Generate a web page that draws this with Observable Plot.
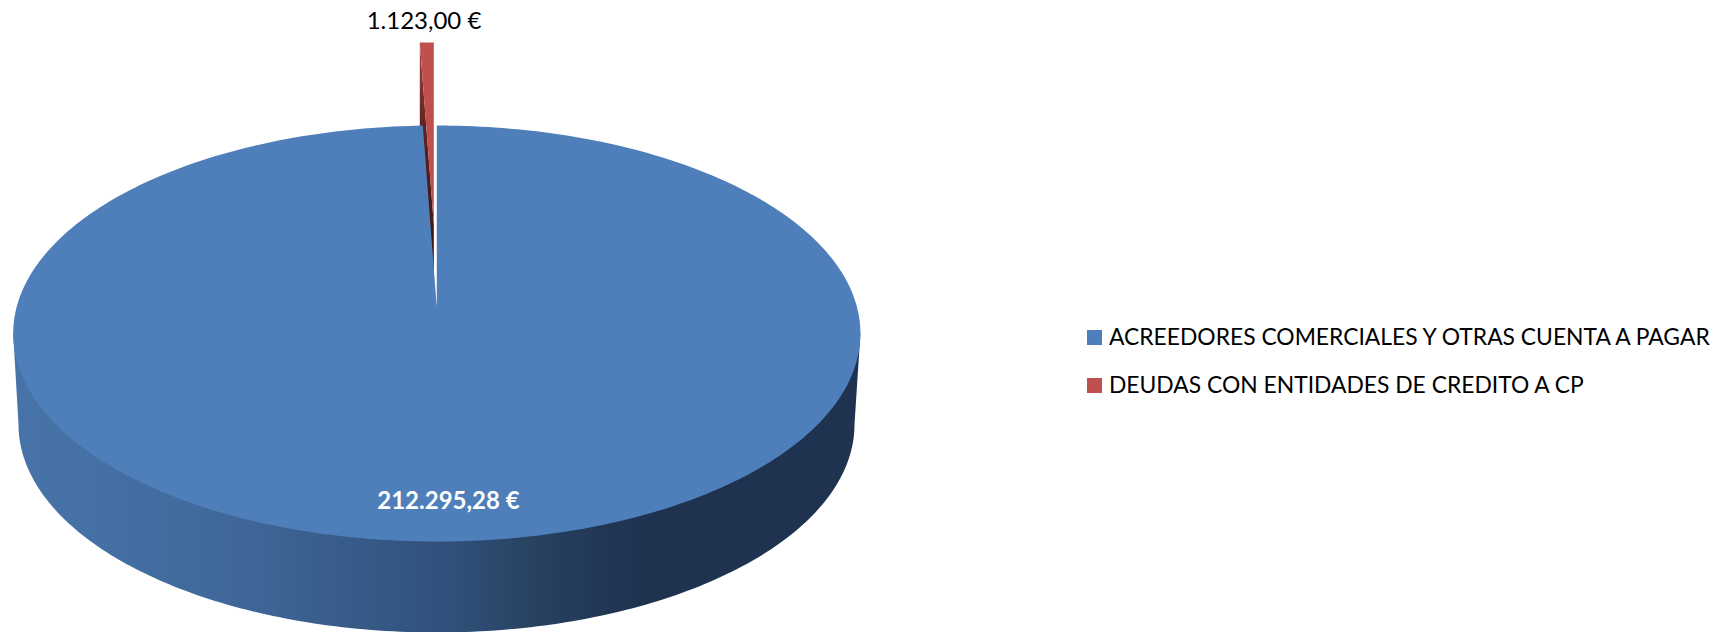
<!DOCTYPE html>
<html>
<head>
<meta charset="utf-8">
<style>
html,body{margin:0;padding:0;background:#fff;}
svg{display:block;}
</style>
<script src="https://cdn.jsdelivr.net/npm/d3@7"></script>
<script src="https://cdn.jsdelivr.net/npm/@observablehq/plot@0.6"></script>
</head>
<body>
<script>
const categories = ["ACREEDORES COMERCIALES Y OTRAS CUENTA A PAGAR", "DEUDAS CON ENTIDADES DE CREDITO A CP"];
const values = [212295.28, 1123.00];
const colors = ["#4e7fba", "#c0504d"];

const W = 1732, H = 632;
const cx = 436.3, cy = 333, rx = 423.6, ry = 208;
const apexY = 307;
const baseCx = 436, baseCy = 424, baseRx = 418, baseRy = 208;
const shiftX = -3, shiftY = -83, cutDepth = 92;

const locale = d3.formatLocale({decimal: ",", thousands: ".", grouping: [3], currency: ["", " €"]});
const euro = v => locale.format(",.2f")(v) + " €";

const total = d3.sum(values);
const redAngle = 2 * Math.PI * values[1] / total;
const rim = (t, x0 = cx, y0 = cy, a = rx, b = ry) => ({x: x0 + a * Math.sin(t), y: y0 - b * Math.cos(t)});

const blueTop = [{x: cx, y: apexY}];
for (let i = 0; i <= 360; i++) blueTop.push(rim(2 * Math.PI * i / 360 * (1 - values[1] / total)));

const redApex = {x: cx + shiftX, y: apexY + shiftY};
const redL = rim(-redAngle, cx + shiftX, cy + shiftY);
const redR = rim(0, cx + shiftX, cy + shiftY);
const redTop = [redApex, redL, redR];
const redCut = [redL, redApex, {x: redApex.x, y: redApex.y + cutDepth}, {x: redL.x, y: redL.y + cutDepth}];

const side = [{x: cx - rx, y: cy}];
for (let i = 0; i <= 180; i++) {
  const t = -Math.PI / 2 - Math.PI * i / 180;
  side.push(rim(t, baseCx, baseCy, baseRx, baseRy));
}
side.push({x: cx + rx, y: cy});

const gradients = () => {
  const defs = d3.create("svg:defs");
  const add = (id, horizontal, stops) => {
    const g = defs.append("linearGradient").attr("id", id)
      .attr("x1", 0).attr("y1", 0).attr("x2", horizontal ? 1 : 0).attr("y2", horizontal ? 0 : 1);
    stops.forEach(([o, c]) => g.append("stop").attr("offset", o).attr("stop-color", c));
  };
  add("sideShade", true, [[0, "#4773a9"], [0.1, "#4570a5"], [0.26, "#3f6899"], [0.52, "#30507a"], [0.62, "#27415f"], [0.7, "#213655"], [0.75, "#1f3350"], [1, "#1f3350"]]);
  add("cutShade", false, [[0, "#a8443f"], [0.3, "#5e2220"], [1, "#2a0f0e"]]);
  return defs.node();
};

const poly = (pts, fill) => Plot.line(pts, {x: "x", y: "y", fill, stroke: "none", curve: "linear"});

const legendRows = categories.map((name, i) => ({name, color: colors[i], i}));
const legendY = i => 345 + 48 * i;

const chart = Plot.plot({
  width: W, height: H,
  marginTop: 0, marginRight: 0, marginBottom: 0, marginLeft: 0,
  x: {domain: [0, W], range: [0, W], axis: null},
  y: {domain: [0, H], range: [0, H], axis: null},
  style: {background: "#fff"},
  marks: [
    gradients,
    poly(side, "url(#sideShade)"),
    poly(redCut, "url(#cutShade)"),
    poly(blueTop, colors[0]),
    poly(redTop, colors[1]),
    Plot.text([values[1]], {x: () => 423.5, y: () => 21, text: d => euro(d), fill: "#000", fontSize: 24, fontFamily: "Lato"}),
    Plot.text([values[0]], {x: () => 448, y: () => 501, text: d => euro(d), fill: "#fff", fontSize: 24, fontWeight: 700, fontFamily: "Lato"}),
    Plot.rect(legendRows, {x1: () => 1087, x2: () => 1102, y1: d => legendY(d.i) - 15, y2: d => legendY(d.i), fill: "color"}),
    Plot.text(legendRows, {x: () => 1108.5, y: d => legendY(d.i) - 7.5, text: "name", textAnchor: "start", fill: "#000", fontSize: 22.85, fontFamily: "Lato"})
  ]
});
document.body.appendChild(chart);
</script>
</body>
</html>
